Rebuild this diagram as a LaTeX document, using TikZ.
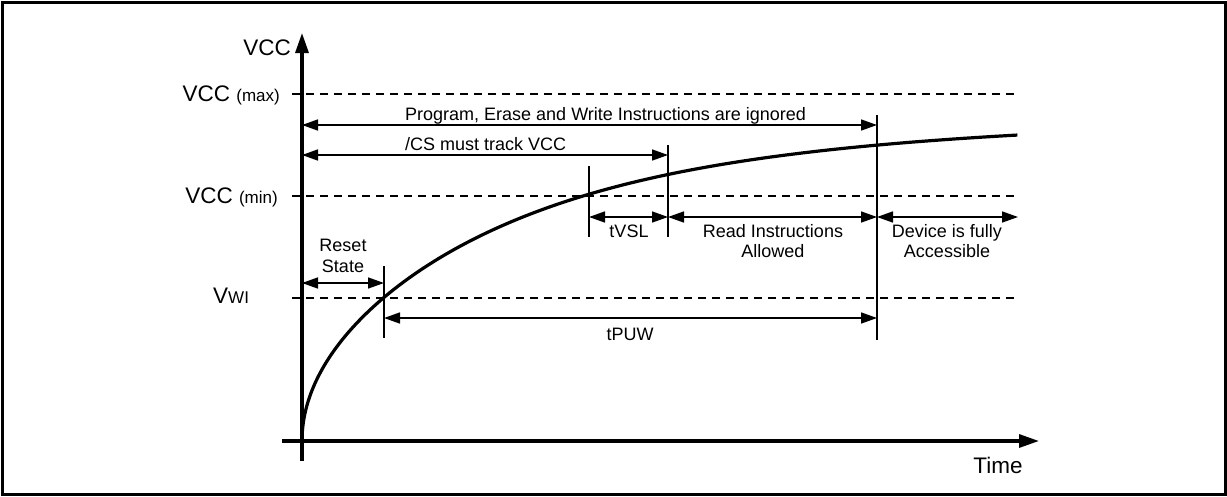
\documentclass[tikz,border=0pt]{standalone}
\usepackage{fontspec}
\setmainfont{Liberation Sans}
\usetikzlibrary{arrows.meta}
\begin{document}
\begin{tikzpicture}[x=1pt,y=-1pt,
  frame/.style={line width=3pt},
  axis/.style={line width=3.2pt,-{Triangle[length=20pt,width=13pt]}},
  dim/.style={line width=1.6pt,{Triangle[length=16pt,width=11pt]}-{Triangle[length=16pt,width=11pt]}},
  mark line/.style={line width=1.6pt},
  level/.style={line width=1.4pt,dash pattern=on 8pt off 6pt},
  curve/.style={line width=3.2pt},
  small/.style={font=\fontsize{18}{20.5}\selectfont,inner sep=0pt},
  big/.style={font=\fontsize{22.5}{26}\selectfont,inner sep=0pt},
]
\useasboundingbox (0,0) rectangle (1227,496);
\draw[frame] (2,2) rectangle (1225,494);

% axes
\coordinate (xs) at (282,441);
\coordinate (xe) at (1039,441);
\coordinate (ys) at (302,461);
\coordinate (ye) at (302,33);
\draw[axis] (xs) -- (xe);
\draw[axis] (ys) -- (ye);

% level lines
\coordinate (maxL) at (292,94);   \coordinate (maxR) at (1018,94);
\coordinate (minL) at (292,196);  \coordinate (minR) at (1018,196);
\coordinate (wiL) at (292,298);   \coordinate (wiR) at (1018,298);
\draw[level] (maxL) -- (maxR);
\draw[level] (minL) -- (minR);
\draw[level] (wiL) -- (wiR);

% labels on the vertical axis
\node[big,anchor=east] (vcc) at (291,48) {VCC};
\node[big,anchor=base east] (vmax) at (280,101) {VCC {\fontsize{17}{20}\selectfont(max)}};
\node[big,anchor=base east] (vmin) at (278,203) {VCC {\fontsize{17}{20}\selectfont(min)}};
\node[big,anchor=base west] (vwi) at (213,303) {V{\fontsize{17}{20}\selectfont WI}};
\node[big,anchor=base] (time) at (998,473) {Time};

% curve
\draw[curve] plot[domain=0:1,samples=160,variable=\t]
  ({302+716*\t*\t},{441-428.1*\t/((1+(1.2973*\t)^4)^0.25)});

% marker lines
\coordinate (a877t) at (877,115); \coordinate (a877b) at (877,340);
\coordinate (a668t) at (668,145); \coordinate (a668b) at (668,237);
\coordinate (a589t) at (589,166); \coordinate (a589b) at (589,237);
\coordinate (a384t) at (384,266); \coordinate (a384b) at (384,338);
\draw[mark line] (a877t) -- (a877b);
\draw[mark line] (a668t) -- (a668b);
\draw[mark line] (a589t) -- (a589b);
\draw[mark line] (a384t) -- (a384b);

% dimension arrows
\coordinate (p1) at (302,125); \coordinate (p2) at (877,125);
\draw[dim] (p1) -- (p2);
\node[small,anchor=base west] (prog) at (405,120) {Program, Erase and Write Instructions are ignored};

\coordinate (c1) at (302,155); \coordinate (c2) at (668,155);
\draw[dim] (c1) -- (c2);
\node[small,anchor=base west] (cs) at (405,150) {/CS must track VCC};

\coordinate (r1) at (302,283); \coordinate (r2) at (384,283);
\draw[dim] (r1) -- (r2);
\node[small,anchor=north,align=center] (reset) at (343,239) {Reset\\State};

\coordinate (v1) at (589,217); \coordinate (v2) at (668,217);
\draw[dim] (v1) -- (v2);
\node[small,anchor=base] (tvsl) at (629,237) {tVSL};

\coordinate (rd1) at (668,217); \coordinate (rd2) at (877,217);
\draw[dim] (rd1) -- (rd2);
\node[small,anchor=north,align=center] (read) at (773,224) {Read Instructions\\Allowed};

\coordinate (d1) at (877,217); \coordinate (d2) at (1018,217);
\draw[dim] (d1) -- (d2);
\node[small,anchor=north,align=center] (dev) at (947,224) {Device is fully\\Accessible};

\coordinate (t1) at (384,318); \coordinate (t2) at (877,318);
\draw[dim] (t1) -- (t2);
\node[small,anchor=base] (tpuw) at (630,340) {tPUW};
\end{tikzpicture}
\end{document}
